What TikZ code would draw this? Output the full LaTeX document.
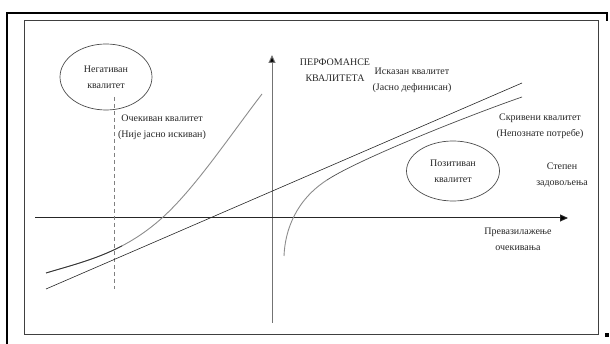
\documentclass[tikz,border=0pt]{standalone}
\usepackage{fontspec}
\setmainfont{Liberation Serif}
\usetikzlibrary{arrows.meta,shapes.geometric}
\begin{document}
\begin{tikzpicture}[x=1pt,y=-1pt,
  lbl/.style={font=\fontsize{10}{16}\selectfont, align=center, inner sep=0pt, text=black!85},
  oval/.style={ellipse, draw=black!70, line width=0.7pt, inner sep=0pt,
               font=\fontsize{10}{16}\selectfont, align=center, text=black!85},
  axisy/.style={draw=black!55, line width=1pt, -{Triangle[length=8pt,width=7pt,fill=black]}},
  axisx/.style={draw=black!85, line width=1pt, -{Triangle[length=8pt,width=7pt,fill=black]}},
  thinline/.style={draw=black!85, line width=0.6pt},
  grayline/.style={draw=black!45, line width=0.9pt},
  darkcurve/.style={draw=black!80, line width=0.8pt},
  outer/.style={draw=black, line width=2.5pt},
  inner/.style={draw=black!75, line width=0.8pt}]
\useasboundingbox (0,0) rectangle (610,344);
% frames
\draw[outer] (7,344) -- (7,13) -- (607,13) -- (607,21);
\fill[black] (604.5,333) rectangle (608.5,337);
\draw[inner] (24,20) rectangle (598,334);
% axes
\coordinate (yb) at (272,323);
\coordinate (yt) at (272,55);
\coordinate (xl) at (35,218);
\coordinate (xr) at (568,218);
\draw[axisy] (yb) -- (yt);
\draw[axisx] (xl) -- (xr);
% dashed line
\coordinate (dt) at (114,97);
\coordinate (db) at (114,289);
\draw[draw=black!50, line width=0.9pt, dash pattern=on 4pt off 3pt] (dt) -- (db);
% straight line
\coordinate (sa) at (46,289);
\coordinate (sb) at (522,83);
\draw[thinline] (sa) -- (sb);
% expected quality curve
\coordinate (e0) at (46,273);
\coordinate (e1) at (162,218);
\coordinate (e2) at (262,94);
\draw[grayline] (e0) .. controls (85,261.3) and (123,253) .. (e1)
                .. controls (195,188.3) and (229,137) .. (e2);
\begin{scope}
  \clip (0,0) rectangle (122,344);
  \draw[darkcurve] (e0) .. controls (85,261.3) and (123,253) .. (e1);
\end{scope}
% hidden quality curve
\coordinate (h0) at (284,256);
\coordinate (h1) at (327,180);
\coordinate (h2) at (522,97);
\draw[grayline] (h0) .. controls (285,230) and (296,200) .. (h1);
\draw[draw=black!70, line width=0.7pt] (h1) .. controls (360,158.5) and (470,115) .. (h2);
% ellipses
\node[oval, minimum width=92pt, minimum height=66pt] (neg) at (106,77) {Негативан\\квалитет};
\node[oval, minimum width=93pt, minimum height=60pt] (pos) at (453,171) {Позитиван\\квалитет};
% labels
\node[lbl] (exp) at (162,127) {Очекиван квалитет\\(Није јасно искиван)};
\node[lbl] (perf) at (335,70) {ПЕРФОМАНСЕ\\КВАЛИТЕТА};
\node[lbl] (isk) at (412,80.5) {Исказан квалитет\\(Јасно дефинисан)};
\node[lbl] (skr) at (540,126) {Скривени квалитет\\(Непознате потребе)};
\node[lbl] (stp) at (562,175) {Степен\\задовољења};
\node[lbl] (prv) at (518,239.5) {Превазилажење\\очекивања};
\end{tikzpicture}
\end{document}
